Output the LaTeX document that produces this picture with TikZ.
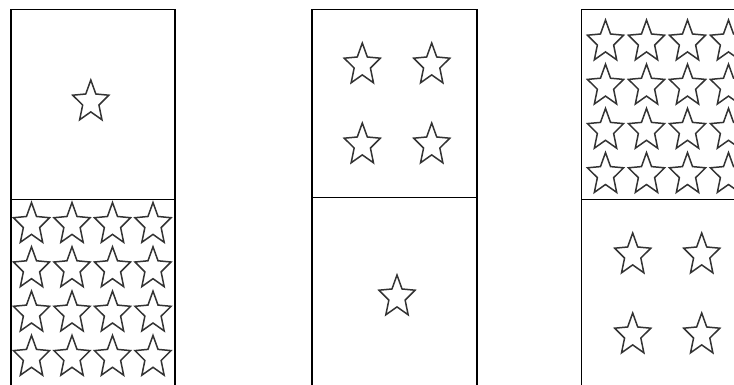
\documentclass[tikz,border=0pt]{standalone}
\begin{document}
\begin{tikzpicture}[
    x=1pt, y=-1pt,
    boxline/.style={black, line width=1.3pt},
    starline/.style={black!80, line width=1.5pt, line join=miter},
    domstar/.pic={
      \draw[starline, xscale=19, yscale=-22]
        (90:1) -- (126:.45) -- (162:1) -- (198:.45) -- (234:1) -- (270:.45)
        -- (306:1) -- (342:.45) -- (18:1) -- (54:.45) -- cycle;
    },
]
\useasboundingbox (0,0) rectangle (734,385);
\clip (0,0) rectangle (734,385);

% =============================================
% DOMINO 1 - one over sixteen
% =============================================
\draw[boxline] (11,9.5) rectangle (175,400);
\draw[boxline] (11,199.5) -- (175,199.5);
\pic at (90.8,102) {domstar};
\foreach \col in {0,...,3}
  \foreach \row in {0,...,3}
    \pic at ({31.5+40.5*\col},{224.5+44.3*\row}) {domstar};

% =============================================
% DOMINO 2 - four over one
% =============================================
\draw[boxline] (312,9.5) rectangle (477,400);
\draw[boxline] (312,197.7) -- (477,197.7);
\foreach \col in {362.3,431.7}
  \foreach \row in {65,145}
    \pic at (\col,\row) {domstar};
\pic at (397,297) {domstar};

% =============================================
% DOMINO 3 - sixteen over four
% =============================================
\draw[boxline] (581.7,9.5) rectangle (747,400);
\draw[boxline] (581.7,199.5) -- (747,199.5);
\foreach \col in {0,...,3}
  \foreach \row in {0,...,3}
    \pic at ({605.5+41*\col},{42+44.2*\row}) {domstar};
\foreach \col in {632.7,701.7}
  \foreach \row in {255,335}
    \pic at (\col,\row) {domstar};

\end{tikzpicture}
\end{document}
